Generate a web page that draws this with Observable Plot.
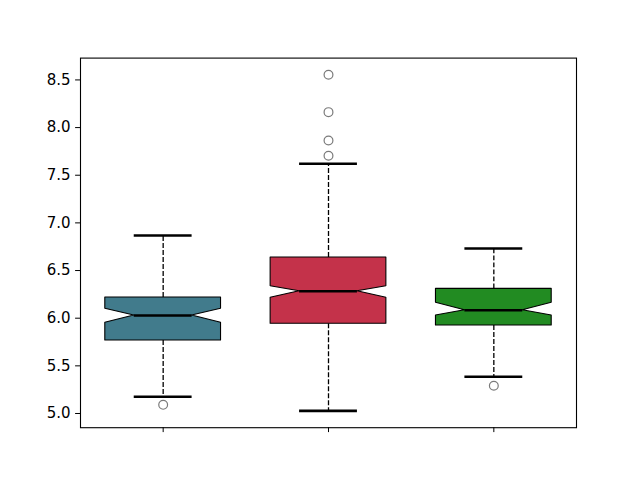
<!DOCTYPE html>
<html>
<head>
<meta charset="utf-8">
<script src="https://cdn.jsdelivr.net/npm/d3@7"></script>
<script src="https://cdn.jsdelivr.net/npm/@observablehq/plot@0.6"></script>
<style>
  html, body { margin: 0; padding: 0; background: #fff; }
</style>
</head>
<body>
<div id="chart"></div>
<script>
// Box statistics (positions 1, 2, 3)
const positions = [1, 2, 3];
const q1        = [5.766, 5.941, 5.923];
const notchLo   = [5.952, 6.214, 6.028];
const medians   = [6.028, 6.283, 6.084];
const notchHi   = [6.099, 6.336, 6.162];
const q3        = [6.217, 6.637, 6.308];
const whiskerLo = [5.175, 5.028, 5.385];
const whiskerHi = [6.868, 7.620, 6.731];
const outliers  = [[5.091], [7.704, 7.865, 8.162, 8.554], [5.291]];
const boxColors = ["#417b8c", "#c4324a", "#228b22"];
const yTicks    = [5.0, 5.5, 6.0, 6.5, 7.0, 7.5, 8.0, 8.5];

const boxHalf = 0.35;    // half box width (data units)
const capHalf = 0.175;   // half cap / notch width

const boxMarks = positions.map((p, i) => {
  const rows = [
    {y: q1[i],      x1: p - boxHalf, x2: p + boxHalf},
    {y: notchLo[i], x1: p - boxHalf, x2: p + boxHalf},
    {y: medians[i], x1: p - capHalf, x2: p + capHalf},
    {y: notchHi[i], x1: p - boxHalf, x2: p + boxHalf},
    {y: q3[i],      x1: p - boxHalf, x2: p + boxHalf}
  ];
  return Plot.areaX(rows, {y: "y", x1: "x1", x2: "x2", fill: boxColors[i], stroke: "black", strokeWidth: 1.1, curve: "linear"});
});

const idx = positions.map((_, i) => i);
const whiskerRows = idx.flatMap(i => [
  {x: positions[i], y1: q3[i], y2: whiskerHi[i]},
  {x: positions[i], y1: q1[i], y2: whiskerLo[i]}
]);
const capRows = idx.flatMap(i => [
  {x: positions[i], y: whiskerHi[i]},
  {x: positions[i], y: whiskerLo[i]}
]);
const medRows = idx.map(i => ({x: positions[i], y: medians[i]}));
const outRows = idx.flatMap(i => outliers[i].map(v => ({x: positions[i], y: v})));

const chart = Plot.plot({
  width: 640,
  height: 480,
  marginLeft: 80,
  marginRight: 64,
  marginTop: 57.6,
  marginBottom: 52.8,
  style: {fontFamily: "DejaVu Sans", fontSize: "15px", color: "black", background: "white"},
  x: {domain: [0.5, 3.5]},
  y: {domain: [4.851, 8.729]},
  marks: [
    Plot.ruleX(whiskerRows, {x: "x", y1: "y1", y2: "y2", stroke: "black", strokeWidth: 1.3, strokeDasharray: "4.9,2.1"}),
    ...boxMarks,
    Plot.ruleY(capRows, {y: "y", x1: d => d.x - capHalf, x2: d => d.x + capHalf, stroke: "black", strokeWidth: 2.6}),
    Plot.ruleY(medRows, {y: "y", x1: d => d.x - capHalf, x2: d => d.x + capHalf, stroke: "black", strokeWidth: 2.6}),
    Plot.dot(outRows, {x: "x", y: "y", r: 4.4, fill: "none", stroke: "#7a7a7a", strokeWidth: 1.2}),
    Plot.frame({stroke: "black", strokeWidth: 1.1}),
    Plot.axisX({ticks: positions, tickFormat: () => "", tickSize: 4.9, label: null}),
    Plot.axisY({ticks: yTicks, tickFormat: d3.format(".1f"), tickSize: 4.9, tickPadding: 5, label: null, fontSize: 15})
  ]
});
d3.select(chart).selectAll("text")
  .attr("font-size", 15)
  .style("font-size", "15px")
  .style("font-family", "DejaVu Sans")
  .style("fill", "black");
document.getElementById("chart").appendChild(chart);
</script>
</body>
</html>
